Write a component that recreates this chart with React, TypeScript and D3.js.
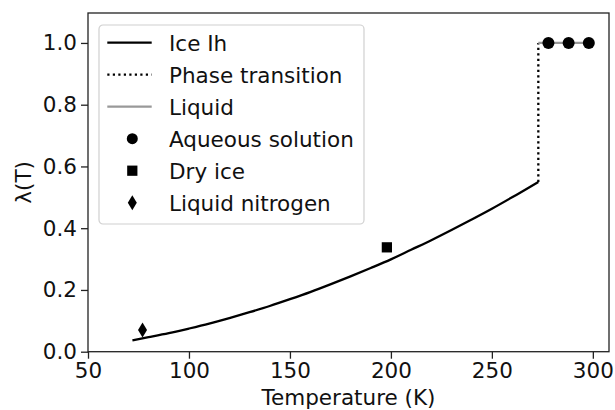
import { useRef, useEffect } from 'react';
import * as d3 from 'd3';

// Ice Ih model curve
const iceTemps = [72, 80, 90, 100, 110, 120, 130, 140, 150, 160, 170, 180, 190, 200, 210, 220, 230, 240, 250, 260, 273];
const iceLambda = [0.037, 0.047, 0.06, 0.075, 0.091, 0.109, 0.128, 0.148, 0.17, 0.193, 0.218, 0.244, 0.271, 0.299, 0.33, 0.361, 0.394, 0.428, 0.463, 0.5, 0.55];

const transitionTemps = [273, 273];
const transitionLambda = [0.55, 1.0];

const liquidTemps = [273, 298];
const liquidLambda = [1.0, 1.0];

// measurements
const aqueousTemps = [278, 288, 298];
const aqueousLambda = [1.0, 1.0, 1.0];
const dryIceTemps = [198];
const dryIceLambda = [0.338];
const nitrogenTemps = [77];
const nitrogenLambda = [0.07];

const xTicks = [50, 100, 150, 200, 250, 300];
const yTicks = [0.0, 0.2, 0.4, 0.6, 0.8, 1.0];

const legendLabels = ['Ice Ih', 'Phase transition', 'Liquid', 'Aqueous solution', 'Dry ice', 'Liquid nitrogen'];

const width = 615;
const height = 410;
const margin = { top: 13, right: 6, bottom: 58.3, left: 88 };
const font = '"DejaVu Sans", sans-serif';
const fs = 21.5;

export default function App() {
  const ref = useRef<SVGSVGElement>(null);

  useEffect(() => {
    if (!ref.current) return;
    const svg = d3.select(ref.current);
    svg.selectAll('*').remove();

    const innerWidth = width - margin.left - margin.right;
    const innerHeight = height - margin.top - margin.bottom;

    const x = d3.scaleLinear().domain([50, 308]).range([0, innerWidth]);
    const y = d3.scaleLinear().domain([0, 1.097]).range([innerHeight, 0]);

    const g = svg.append('g').attr('transform', `translate(${margin.left},${margin.top})`);

    const toPts = (ts: number[], ls: number[]) => ts.map((t, i) => [t, ls[i]] as [number, number]);
    const line = d3
      .line<[number, number]>()
      .x((d) => x(d[0]))
      .y((d) => y(d[1]))
      .curve(d3.curveMonotoneX);
    const straight = d3.line<[number, number]>().x((d) => x(d[0])).y((d) => y(d[1]));

    // Ice curve
    g.append('path')
      .datum(toPts(iceTemps, iceLambda))
      .attr('fill', 'none')
      .attr('stroke', '#000')
      .attr('stroke-width', 2.3)
      .attr('d', line);

    // Phase transition
    g.append('path')
      .datum(toPts(transitionTemps, transitionLambda))
      .attr('fill', 'none')
      .attr('stroke', '#000')
      .attr('stroke-width', 2.3)
      .attr('stroke-dasharray', '2.2,3.3')
      .attr('d', straight);

    // Liquid
    g.append('path')
      .datum(toPts(liquidTemps, liquidLambda))
      .attr('fill', 'none')
      .attr('stroke', '#999')
      .attr('stroke-width', 2.3)
      .attr('d', straight);

    // Aqueous solution points
    g.selectAll('circle.aq')
      .data(toPts(aqueousTemps, aqueousLambda))
      .enter()
      .append('circle')
      .attr('cx', (d) => x(d[0]))
      .attr('cy', (d) => y(d[1]))
      .attr('r', 6)
      .attr('fill', '#000');

    const square = d3.symbol().type(d3.symbolSquare).size(105);
    g.selectAll('path.dry')
      .data(toPts(dryIceTemps, dryIceLambda))
      .enter()
      .append('path')
      .attr('d', square)
      .attr('transform', (d) => `translate(${x(d[0])},${y(d[1])})`)
      .attr('fill', '#000');

    const diamond = 'M0,-7.5L4.5,0L0,7.5L-4.5,0Z';
    g.selectAll('path.ln2')
      .data(toPts(nitrogenTemps, nitrogenLambda))
      .enter()
      .append('path')
      .attr('d', diamond)
      .attr('transform', (d) => `translate(${x(d[0])},${y(d[1])})`)
      .attr('fill', '#000');

    // Axes
    const xAxis = g
      .append('g')
      .attr('transform', `translate(0,${innerHeight})`)
      .call(d3.axisBottom(x).tickValues(xTicks).tickSize(7).tickPadding(4).tickFormat(d3.format('d')));
    const yAxis = g
      .append('g')
      .call(d3.axisLeft(y).tickValues(yTicks).tickSize(7).tickPadding(4).tickFormat(d3.format('.1f')));
    [xAxis, yAxis].forEach((a) => {
      a.select('.domain').remove();
      a.selectAll('line').attr('stroke', '#222').attr('stroke-width', 1.3);
      a.selectAll('text').attr('font-family', font).attr('font-size', fs).attr('fill', '#111');
    });

    // Frame
    g.append('rect')
      .attr('width', innerWidth)
      .attr('height', innerHeight)
      .attr('fill', 'none')
      .attr('stroke', '#222')
      .attr('stroke-width', 1.3);

    // Legend
    const lg = svg.append('g').attr('transform', 'translate(99,25)');
    lg.append('rect')
      .attr('width', 265)
      .attr('height', 199)
      .attr('rx', 4)
      .attr('fill', 'rgba(255,255,255,0.8)')
      .attr('stroke', '#d0d0d0')
      .attr('stroke-width', 1.2);

    const rowY = (i: number) => 17.7 + i * 32;
    legendLabels.forEach((label, i) => {
      const cy = rowY(i);
      if (i < 3) {
        const h = lg
          .append('line')
          .attr('x1', 8.3)
          .attr('x2', 52.7)
          .attr('y1', cy)
          .attr('y2', cy)
          .attr('stroke', i === 2 ? '#999' : '#000')
          .attr('stroke-width', 2.3);
        if (i === 1) h.attr('stroke-dasharray', '2.2,3.3');
      } else if (i === 3) {
        lg.append('circle').attr('cx', 33.3).attr('cy', cy).attr('r', 5.5).attr('fill', '#000');
      } else if (i === 4) {
        lg.append('path').attr('d', square).attr('transform', `translate(33.3,${cy})`).attr('fill', '#000');
      } else {
        lg.append('path').attr('d', diamond).attr('transform', `translate(33.3,${cy})`).attr('fill', '#000');
      }
      lg.append('text')
        .attr('x', 70)
        .attr('y', cy + 7.8)
        .attr('font-family', font)
        .attr('font-size', fs)
        .attr('fill', '#111')
        .text(label);
    });

    // Axis labels
    svg
      .append('text')
      .attr('x', margin.left + innerWidth / 2)
      .attr('y', 405)
      .attr('text-anchor', 'middle')
      .attr('font-family', font)
      .attr('font-size', fs)
      .attr('fill', '#111')
      .text('Temperature (K)');

    svg
      .append('text')
      .attr('transform', 'rotate(-90)')
      .attr('x', -(margin.top + innerHeight / 2))
      .attr('y', 31)
      .attr('text-anchor', 'middle')
      .attr('font-family', font)
      .attr('font-size', fs)
      .attr('fill', '#111')
      .text('λ(T)');
  }, []);

  return (
    <svg
      ref={ref}
      width={width}
      height={height}
      style={{ position: 'absolute', left: 0, top: 0, background: '#fff' }}
    />
  );
}
